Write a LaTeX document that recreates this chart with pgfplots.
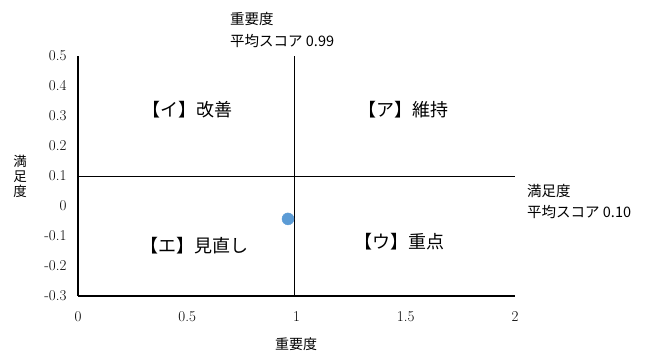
\documentclass[border=0pt]{standalone}
\usepackage{pgfplots}
\pgfplotsset{compat=1.18}
\usepackage{fontspec}
\newfontfamily\jp{Noto Sans CJK JP}
\definecolor{ptblue}{HTML}{5B9BD5}
\begin{document}
\begin{tikzpicture}[x=1pt,y=1pt]
\path (0,0) rectangle (651,351);
\begin{axis}[
  at={(78pt,55pt)}, anchor=south west,
  scale only axis, width=437pt, height=240pt,
  xmin=0, xmax=2, ymin=-0.3, ymax=0.5,
  axis lines=left, axis line style={line width=1.6pt,-},
  xtick={0,0.5,1,1.5,2}, xticklabels={0,0.5,1,1.5,2},
  ytick={-0.3,-0.2,-0.1,0,0.1,0.2,0.3,0.4,0.5},
  yticklabels={{-0.3},{-0.2},{-0.1},0,0.1,0.2,0.3,0.4,0.5},
  major tick length=0pt,
  tick label style={font=\fontsize{15}{17}\selectfont},
  xticklabel style={yshift=-12pt},
  yticklabel style={xshift=-8pt},
  clip=false,
]
\addplot[black, line width=0.8pt] coordinates {(0.99,-0.3) (0.99,0.5)};
\addplot[black, line width=0.8pt] coordinates {(0,0.1) (2,0.1)};
\addplot[only marks, mark=*, mark size=6pt, color=ptblue] coordinates {(0.961,-0.043)};
\node[font=\jp\fontsize{18}{20}\selectfont] at (axis cs:0.5,0.32) {【イ】改善};
\node[font=\jp\fontsize{18}{20}\selectfont] at (axis cs:1.49,0.32) {【ア】維持};
\node[font=\jp\fontsize{18}{20}\selectfont] at (axis cs:0.535,-0.133) {【エ】見直し};
\node[font=\jp\fontsize{18}{20}\selectfont] at (axis cs:1.47,-0.12) {【ウ】重点};
\end{axis}
\node[anchor=north west, align=left, inner sep=0pt, font=\jp\fontsize{14.5}{22}\selectfont] at (230,339) {重要度\\平均スコア 0.99};
\node[anchor=north west, align=left, inner sep=0pt, font=\jp\fontsize{14.5}{21}\selectfont] at (527,167) {満足度\\平均スコア 0.10};
\node[anchor=center, align=center, inner sep=0pt, font=\jp\fontsize{13.5}{15}\selectfont] at (20,175) {満\\足\\度};
\node[anchor=center, inner sep=0pt, font=\jp\fontsize{14}{15}\selectfont] at (296,7) {重要度};
\end{tikzpicture}
\end{document}
